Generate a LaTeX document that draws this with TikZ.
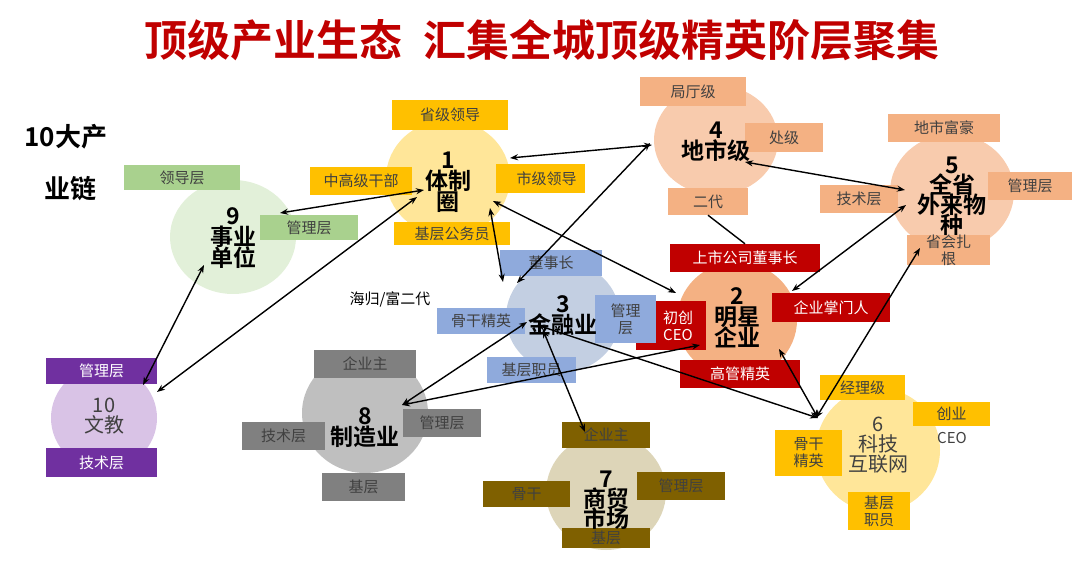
\documentclass[tikz,border=0pt]{standalone}
\usepackage{fontspec}
\setmainfont{Noto Sans CJK SC}[BoldFont={Noto Sans CJK SC Bold}]
\usetikzlibrary{shapes.geometric,arrows.meta}
\definecolor{cA}{HTML}{FFE699}\definecolor{cB}{HTML}{F8CBAD}\definecolor{cC}{HTML}{E2F0D9}
\definecolor{cD}{HTML}{F4B183}\definecolor{cE}{HTML}{C3CFE2}\definecolor{cF}{HTML}{D9C3E6}
\definecolor{cG}{HTML}{BFBFBF}\definecolor{cH}{HTML}{DDD5B8}
\definecolor{bY}{HTML}{FFC000}\definecolor{bG}{HTML}{A9D18E}\definecolor{bO}{HTML}{F4B183}
\definecolor{bR}{HTML}{C00000}\definecolor{bB}{HTML}{8FAADC}\definecolor{bP}{HTML}{7030A0}
\definecolor{bK}{HTML}{808080}\definecolor{bN}{HTML}{7F6000}\definecolor{tx}{HTML}{404040}
\newcommand\myell[6]{\node[ell,fill=#2,minimum width=#5*2pt,minimum height=#6*2pt] (#1) at (#3,#4) {};}
\newcommand\lbx[8]{\node[lab,fill=#2,text=#3,minimum width={(#6-#4)*1pt},minimum height={(#7-#5)*1pt}] (#1) at ({(#4+#6)/2},{(#5+#7)/2}) {#8};}
\tikzset{ell/.style={ellipse,inner sep=0pt,draw=none},
 lab/.style={rectangle,inner sep=0pt,draw=none,font=\fontsize{15}{17}\selectfont,align=center},
 ctitle/.style={font=\bfseries\fontsize{23}{25}\selectfont,align=center,text=black},
 arr/.style={{Stealth[length=8pt,width=6pt]}-{Stealth[length=8pt,width=6pt]},line width=1.4pt,black}}
\begin{document}
\begin{tikzpicture}[x=1pt,y=-1pt]
\useasboundingbox (0,0) rectangle (1080,561);
\node[font=\bfseries\fontsize{43}{46}\selectfont,text=bR] (title) at (542,40) {顶级产业生态\hspace{0.5em}汇集全城顶级精英阶层聚集};
\node[font=\bfseries\fontsize{26}{28}\selectfont] (ta) at (66,137) {10大产};
\node[font=\bfseries\fontsize{26}{28}\selectfont] (tb) at (70,189) {业链};
\node[font=\fontsize{15}{16}\selectfont] (hg) at (390,299) {海归/富二代};
% circles
\myell{c1}{cA}{448}{178}{62}{58}
\myell{c4}{cB}{716}{140}{62}{55}
\myell{c5}{cB}{952}{192}{62}{58}
\myell{c9}{cC}{233}{237}{63}{57}
\myell{c2}{cD}{737}{320}{60}{58}
\myell{c3}{cE}{563}{317}{57}{55}
\myell{c10}{cF}{104}{418}{53}{52}
\myell{c8}{cG}{365}{413}{63}{60}
\myell{c7}{cH}{606}{492}{60}{58}
\myell{c6}{cA}{878}{450}{62}{62}
% boxes
\lbx{b11}{bY}{tx}{392}{100}{508}{130}{省级领导}
\lbx{b12}{bY}{tx}{310}{167}{412}{195}{中高级干部}
\lbx{b13}{bY}{tx}{496}{164}{585}{193}{\hspace*{12pt}市级领导}
\lbx{b14}{bY}{tx}{394}{222}{510}{245}{基层公务员}
\lbx{b91}{bG}{tx}{124}{165}{240}{190}{领导层}
\lbx{b92}{bG}{tx}{260}{215}{358}{240}{管理层}
\lbx{b41}{bO}{tx}{640}{77}{746}{106}{局厅级}
\lbx{b42}{bO}{tx}{745}{123}{823}{152}{处级}
\lbx{b43}{bO}{tx}{668}{188}{748}{215}{二代}
\lbx{b51}{bO}{tx}{888}{114}{1000}{142}{地市富豪}
\lbx{b52}{bO}{tx}{988}{172}{1072}{200}{管理层}
\lbx{b53}{bO}{tx}{820}{185}{898}{213}{技术层}
\lbx{b54}{bO}{tx}{907}{236}{990}{264}{省会扎\\根}
\lbx{b21}{bR}{white}{670}{244}{820}{272}{上市公司董事长}
\lbx{b22}{bR}{white}{772}{293}{890}{322}{企业掌门人}
\lbx{b23}{bR}{white}{680}{360}{800}{388}{高管精英}
\lbx{b24}{bR}{white}{636}{301}{706}{350}{\hspace*{14pt}初创\\\hspace*{14pt}CEO}
\lbx{b31}{bB}{tx}{500}{250}{602}{276}{董事长}
\lbx{b32}{bB}{tx}{595}{295}{656}{343}{管理\\层}
\lbx{b33}{bB}{tx}{437}{308}{525}{334}{骨干精英}
\lbx{b34}{bB}{tx}{487}{357}{576}{383}{基层职员}
\lbx{b101}{bP}{white}{46}{358}{157}{384}{管理层}
\lbx{b102}{bP}{white}{46}{448}{157}{477}{技术层}
\lbx{b81}{bK}{tx}{314}{350}{416}{378}{企业主}
\lbx{b82}{bK}{tx}{403}{409}{481}{437}{管理层}
\lbx{b83}{bK}{tx}{242}{422}{325}{450}{技术层}
\lbx{b84}{bK}{tx}{322}{473}{405}{501}{基层}
\lbx{b71}{bN}{tx}{562}{422}{650}{448}{企业主}
\lbx{b72}{bN}{tx}{637}{472}{725}{500}{管理层}
\lbx{b73}{bN}{tx}{483}{481}{570}{507}{骨干}
\lbx{b74}{bN}{tx}{562}{528}{650}{548}{基层}
\lbx{b61}{bY}{tx}{820}{375}{905}{400}{经理级}
\lbx{b62}{bY}{tx}{913}{402}{990}{426}{创业}
\node[font=\fontsize{15}{16}\selectfont,text=tx] (ceo) at (952,438) {CEO};
\lbx{b63}{bY}{tx}{775}{430}{842}{476}{骨干\\精英}
\lbx{b64}{bY}{tx}{848}{492}{910}{530}{基层\\职员}
% circle labels
\node[ctitle] (t1) at (448,182) {1\\[-4pt]体制\\[-4pt]圈};
\node[ctitle] (t4) at (716,142) {4\\[-4pt]地市级};
\node[ctitle] (t5) at (952,196) {5\\[-5pt]全省\\[-5pt]外来物\\[-5pt]种};
\node[ctitle] (t9) at (233,238) {9\\[-4pt]事业\\[-4pt]单位};
\node[ctitle] (t2) at (737,318) {2\\[-4pt]明星\\[-4pt]企业};
\node[ctitle] (t3) at (563,316) {3\\[-4pt]金融业};
\node[ctitle] (t8) at (365,428) {8\\[-4pt]制造业};
\node[ctitle] (t7) at (606,500) {7\\[-5pt]商贸\\[-5pt]市场};
\node[font=\fontsize{20}{24}\selectfont,align=center,text=tx] (t10) at (104,416) {10\\[-4pt]文教};
\node[font=\fontsize{20}{24}\selectfont,align=center,text=tx] (t6) at (878,445) {6\\[-4pt]科技\\[-4pt]互联网};
% connector end points
\coordinate (p1a) at (510,158); \coordinate (p4a) at (652,145);
\coordinate (p1b) at (424,190); \coordinate (p9a) at (280,213);
\coordinate (p1c) at (417,197); \coordinate (p10a) at (157,392);
\coordinate (p9b) at (204,265); \coordinate (p10b) at (143,385);
\coordinate (p1d) at (493,201); \coordinate (p2a) at (676,293);
\coordinate (p1e) at (490,208); \coordinate (p3a) at (503,282);
\coordinate (p4b) at (650,143); \coordinate (p3b) at (517,283);
\coordinate (p4c) at (745,162); \coordinate (p5a) at (905,190);
\coordinate (p5b) at (906,205); \coordinate (p2b) at (792,291);
\coordinate (p5c) at (920,248); \coordinate (p6a) at (816,418);
\coordinate (p2c) at (779,349); \coordinate (p6b) at (818,418);
\coordinate (p3c) at (527,322); \coordinate (p8a) at (402,405);
\coordinate (p2d) at (700,345); \coordinate (p8b) at (402,405);
\coordinate (p3d) at (537,325); \coordinate (p6c) at (818,418);
\coordinate (p3e) at (543,330); \coordinate (p7a) at (585,432);
\draw[arr] (p1a) -- (p4a);
\draw[arr] (p1b) -- (p9a);
\draw[arr] (p1c) -- (p10a);
\draw[arr] (p9b) -- (p10b);
\draw[arr] (p1d) -- (p2a);
\draw[arr] (p1e) -- (p3a);
\draw[arr] (p4b) -- (p3b);
\draw[arr] (p4c) -- (p5a);
\draw[arr] (p5b) -- (p2b);
\draw[line width=1.4pt] (b43.south) -- (b21.north);
\draw[arr] (p5c) -- (p6a);
\draw[arr] (p2c) -- (p6b);
\draw[arr] (p3c) -- (p8a);
\draw[arr] (p2d) -- (p8b);
\draw[arr] (p3d) -- (p6c);
\draw[arr] (p3e) -- (p7a);
\end{tikzpicture}
\end{document}
